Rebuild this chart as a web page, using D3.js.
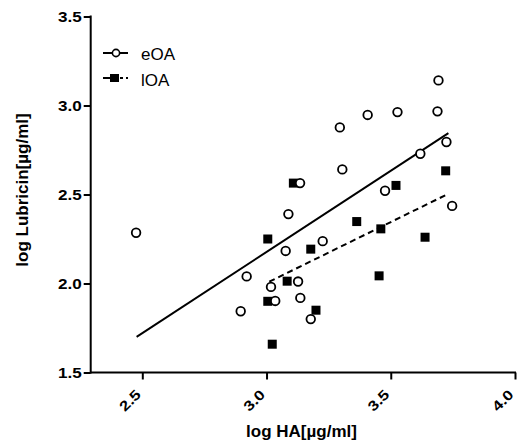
<!DOCTYPE html>
<html><head><meta charset="utf-8">
<script src="https://cdn.jsdelivr.net/npm/d3@7"></script>
<style>body{margin:0;background:#fff}svg{display:block}text{font-family:"Liberation Sans",Arial,sans-serif}</style>
</head><body><svg id="c" width="519" height="448"></svg>
<script>
const xTicks = [2.5, 3.0, 3.5, 4.0];
const yTicks = [1.5, 2.0, 2.5, 3.0, 3.5];
const eOA_x = [2.475, 2.92, 2.896, 3.135, 3.088, 3.077, 3.226, 3.018, 3.127, 3.035, 3.136, 3.178, 3.692, 3.407, 3.527, 3.688, 3.295, 3.724, 3.619, 3.305, 3.477, 3.747];
const eOA_y = [2.285, 2.04, 1.844, 2.564, 2.39, 2.183, 2.238, 1.981, 2.011, 1.902, 1.919, 1.80, 3.141, 2.947, 2.963, 2.967, 2.877, 2.795, 2.729, 2.641, 2.521, 2.436];
const lOA_x = [3.108, 3.005, 3.178, 3.083, 3.005, 3.199, 3.023, 3.521, 3.721, 3.363, 3.46, 3.638, 3.453];
const lOA_y = [2.564, 2.25, 2.193, 2.013, 1.90, 1.85, 1.659, 2.551, 2.633, 2.348, 2.307, 2.26, 2.043];
const eOA_fit_x = [2.477, 3.732];
const eOA_fit_y = [1.70, 2.845];
const lOA_fit_x = [3.011, 3.723];
const lOA_fit_y = [2.01, 2.498];
const seriesNames = ["eOA", "lOA"];

const svg = d3.select("#c");
const x = d3.scaleLinear().domain([2.5, 4.0]).range([142.3, 515]);
const y = d3.scaleLinear().domain([1.5, 3.5]).range([372.5, 16.5]);
const x0 = 90.7;
const sx = 1.22;

// axes
const yAxis = svg.append("g").attr("transform", `translate(${x0},0)`)
  .call(d3.axisLeft(y).tickValues(yTicks).tickFormat(d3.format(".1f")).tickSize(7).tickSizeOuter(0));
const xAxis = svg.append("g").attr("transform", `translate(0,${y(1.5)})`)
  .call(d3.axisBottom(x).tickValues(xTicks).tickFormat(d3.format(".1f")).tickSize(7).tickSizeOuter(0));
[xAxis, yAxis].forEach(g => {
  g.select(".domain").remove();
  g.selectAll(".tick line").attr("stroke", "#000").attr("stroke-width", 2);
  g.selectAll("text").attr("fill", "#000").style("font-size", "14px").style("font-weight", "bold");
});
yAxis.selectAll("text").attr("x", -9 / sx).attr("dy", "0.36em").attr("transform", `scale(${sx},1)`);
xAxis.selectAll("text").attr("text-anchor", "end").attr("dy", "0").attr("y", 0).attr("x", 0)
  .attr("transform", `translate(-1,23) rotate(-45) scale(${sx},1)`);
svg.append("line").attr("x1", x0).attr("x2", x0).attr("y1", y(3.5)-1).attr("y2", y(1.5)+1).attr("stroke", "#000").attr("stroke-width", 2);
svg.append("line").attr("x1", x0).attr("x2", x(4.0)+1).attr("y1", y(1.5)).attr("y2", y(1.5)).attr("stroke", "#000").attr("stroke-width", 2);

// titles
svg.append("text").attr("x", 301.5).attr("y", 437).attr("text-anchor", "middle")
  .style("font-size", "17px").style("font-weight", "bold").text("log HA[µg/ml]");
svg.append("text").attr("transform", "translate(28,190) rotate(-90)").attr("text-anchor", "middle")
  .style("font-size", "17px").style("font-weight", "bold").text("log Lubricin[µg/ml]");

// fit lines
svg.append("line").attr("x1", x(eOA_fit_x[0])).attr("y1", y(eOA_fit_y[0])).attr("x2", x(eOA_fit_x[1])).attr("y2", y(eOA_fit_y[1]))
  .attr("stroke", "#000").attr("stroke-width", 2);
svg.append("line").attr("x1", x(lOA_fit_x[0])).attr("y1", y(lOA_fit_y[0])).attr("x2", x(lOA_fit_x[1])).attr("y2", y(lOA_fit_y[1]))
  .attr("stroke", "#000").attr("stroke-width", 2).attr("stroke-dasharray", "6,4");

// points
const eData = eOA_x.map((v, i) => [v, eOA_y[i]]);
const lData = lOA_x.map((v, i) => [v, lOA_y[i]]);
svg.append("g").selectAll("rect").data(lData).join("rect")
  .attr("x", d => x(d[0]) - 4.5).attr("y", d => y(d[1]) - 4.5).attr("width", 9).attr("height", 9).attr("fill", "#000");
svg.append("g").selectAll("circle").data(eData).join("circle")
  .attr("cx", d => x(d[0])).attr("cy", d => y(d[1])).attr("r", 4.3)
  .attr("fill", "#fff").attr("stroke", "#000").attr("stroke-width", 1.8);

// legend
const lg = svg.append("g");
lg.append("line").attr("x1", 103).attr("x2", 128).attr("y1", 53).attr("y2", 53).attr("stroke", "#000").attr("stroke-width", 2);
lg.append("circle").attr("cx", 116).attr("cy", 53).attr("r", 3.6).attr("fill", "#fff").attr("stroke", "#000").attr("stroke-width", 1.6);
lg.append("line").attr("x1", 103).attr("x2", 112).attr("y1", 78).attr("y2", 78).attr("stroke", "#000").attr("stroke-width", 2);
lg.append("line").attr("x1", 120).attr("x2", 128).attr("y1", 78).attr("y2", 78).attr("stroke", "#000").attr("stroke-width", 2).attr("stroke-dasharray", "3,3,2");
lg.append("rect").attr("x", 110).attr("y", 74).attr("width", 9).attr("height", 8).attr("fill", "#000");
lg.selectAll("text.lab").data(seriesNames).join("text").attr("class", "lab")
  .attr("x", 141).attr("y", (d, i) => 60 + i * 26)
  .style("font-size", "17px").attr("fill", "#000").text(d => d);
</script></body></html>
